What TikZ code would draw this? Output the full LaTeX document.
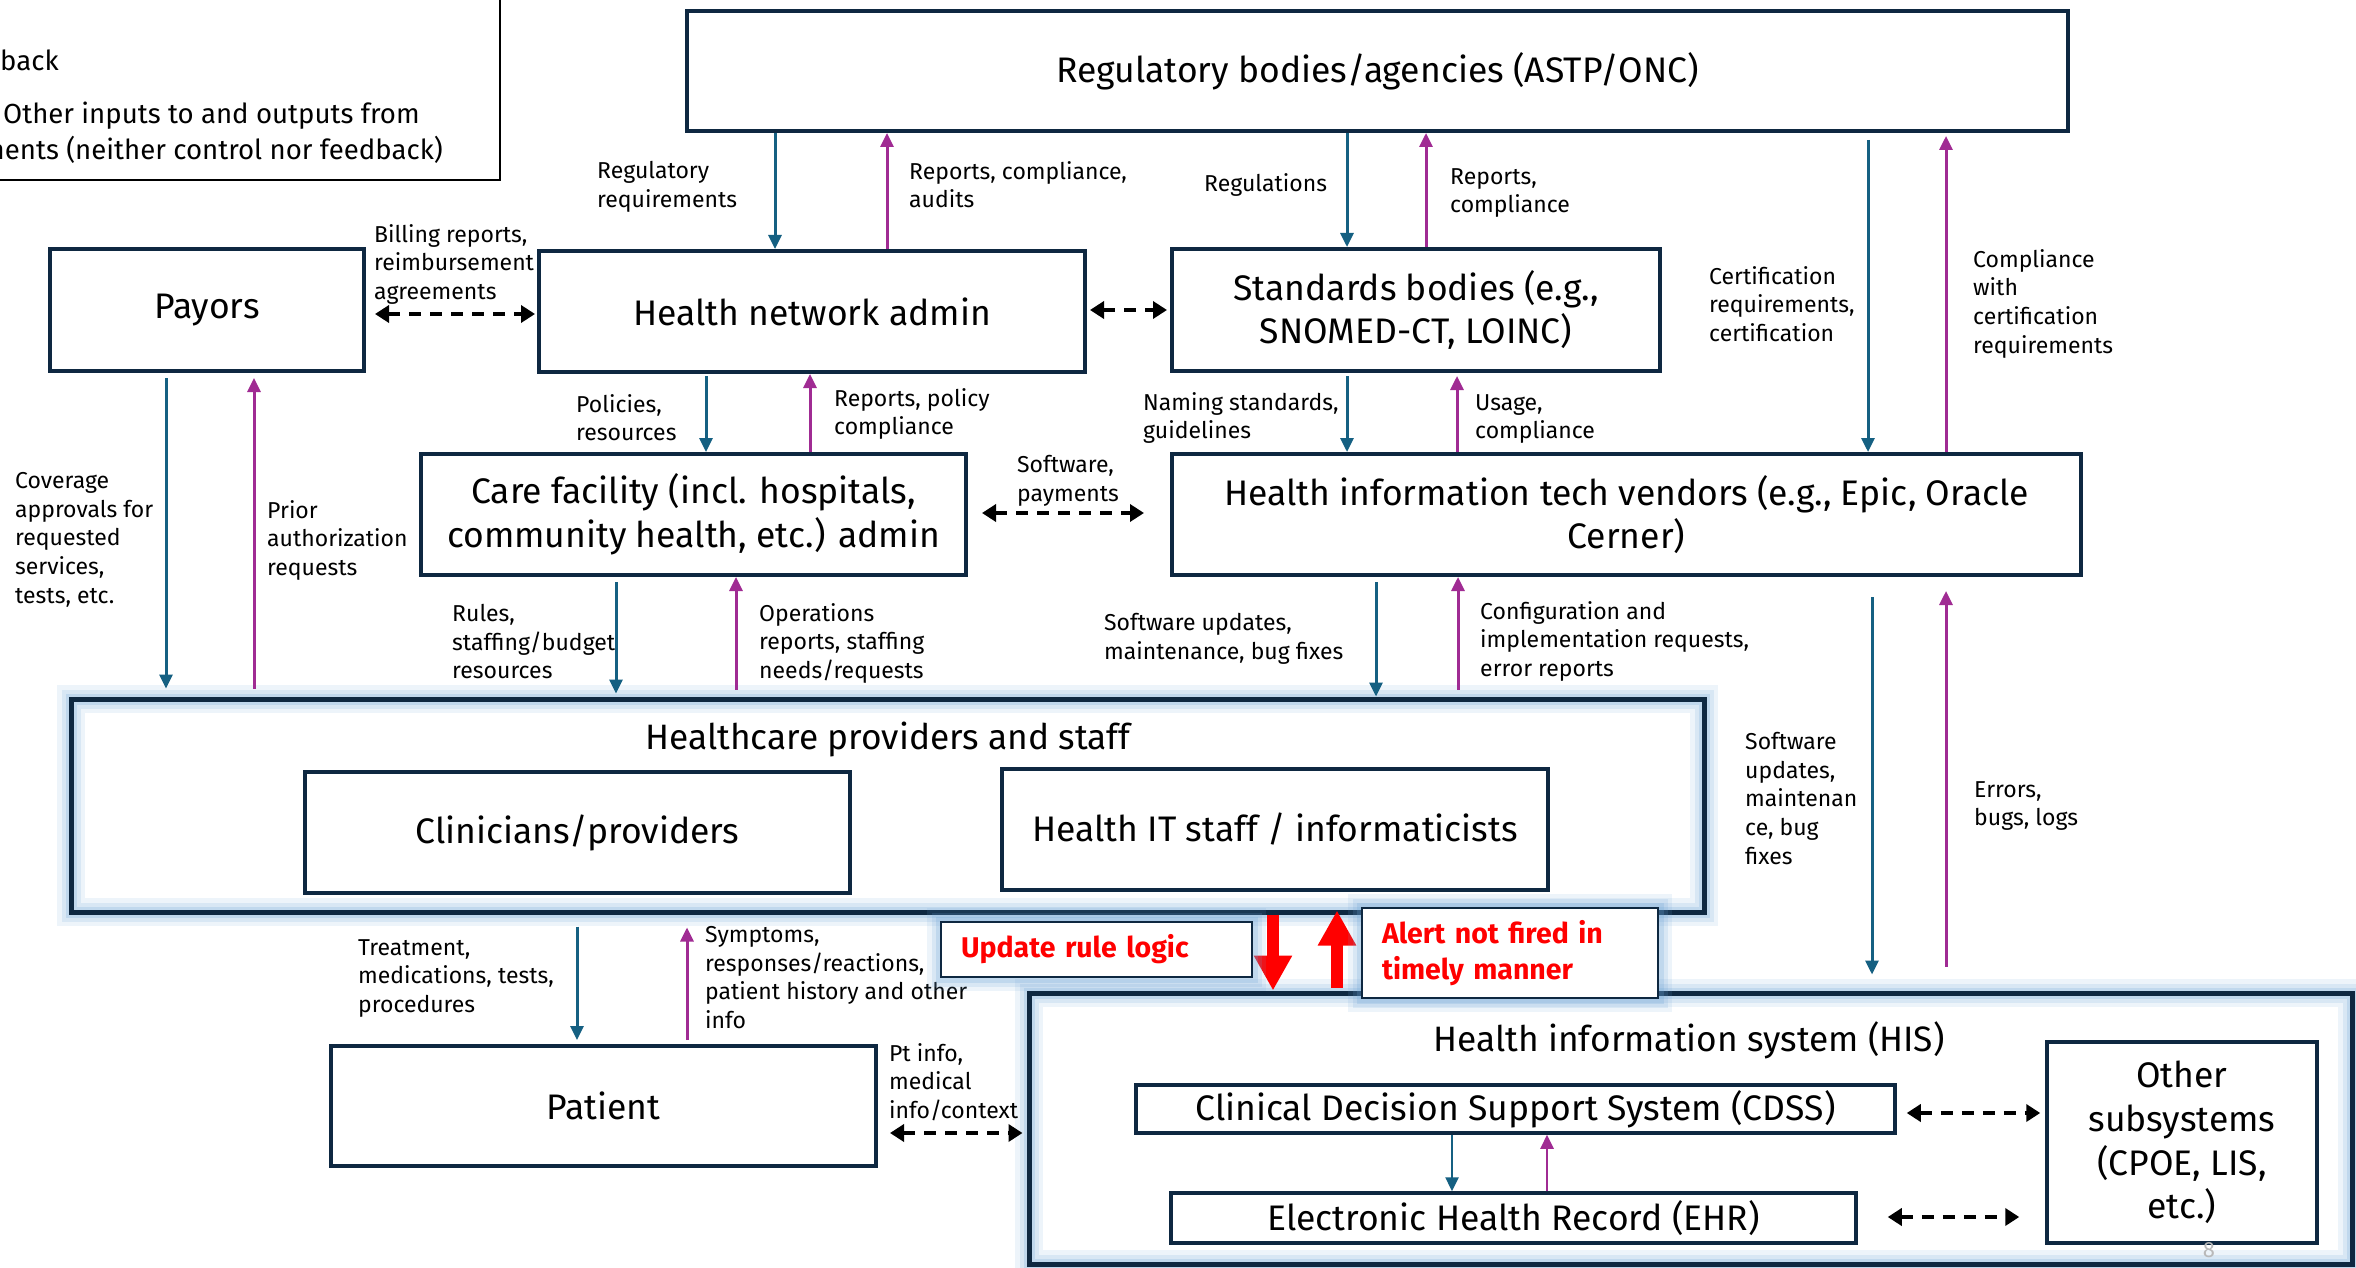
\documentclass[tikz,border=0pt]{standalone}
\usepackage{fontspec}
\setmainfont{Fira Sans}
\usetikzlibrary{arrows.meta}

\definecolor{edge}{RGB}{14,40,65}
\definecolor{ctlblue}{RGB}{21,96,130}
\definecolor{fbpurple}{RGB}{160,43,147}
\definecolor{glowblue}{RGB}{110,165,215}
\definecolor{alertred}{RGB}{255,0,0}

\tikzset{
  box/.style={draw=edge, line width=4pt, fill=white, inner sep=0pt, align=center,
    font=\fontsize{35.5}{43.6}\selectfont},
  glow/.style={
    preaction={draw=glowblue, line width=28pt, draw opacity=.12},
    preaction={draw=glowblue, line width=19pt, draw opacity=.16},
    preaction={draw=glowblue, line width=11pt, draw opacity=.22}},
  grp/.style={draw=edge, line width=5pt, glow, inner sep=0pt},
  grptitle/.style={inner sep=0pt, font=\fontsize{35.3}{40}\selectfont},
  lbl/.style={inner sep=0pt, anchor=north west, align=left,
    font=\fontsize{23}{28.7}\selectfont},
  legtext/.style={inner sep=0pt, font=\fontsize{27.6}{30}\selectfont},
  ctl/.style={draw=ctlblue, line width=3pt, -{Triangle[length=14pt,width=13pt]}},
  fb/.style={draw=fbpurple, line width=3pt, -{Triangle[length=14pt,width=13pt]}},
  peer/.style={draw=black, line width=4pt, dash pattern=on 12pt off 9pt,
    {Triangle[length=14pt,width=17pt]}-{Triangle[length=14pt,width=17pt]}},
  bigred/.style={draw=alertred, line width=12pt, -{Triangle[length=35pt,width=36pt]}},
  redlbl/.style={draw=edge, line width=2pt, fill=white, glow, inner xsep=20pt,
    inner ysep=0pt, align=left, text=alertred,
    font=\fontsize{28.5}{36}\selectfont\bfseries},
}

\begin{document}
\begin{tikzpicture}[x=1pt, y=-1pt]
\useasboundingbox (0,0) rectangle (2356,1268);
\clip (0,0) rectangle (2356,1268);
\fill[white] (0,0) rectangle (2356,1268);

% legend frame (partly outside the page)
\node[draw=black, line width=2pt, minimum width=540pt, minimum height=220pt,
      inner sep=0pt] (legend) at (230,70) {};
\node[legtext, anchor=west] (legfb) at (0,60) {back};
\node[legtext, anchor=west] (legio) at (3,116) {Other inputs to and outputs from};
\node[legtext, anchor=east] (legio2) at (443,150) {ments (neither control nor feedback)};

% grouping boxes
\node[grp, minimum width=1633pt, minimum height=213pt] (hcp) at (887.5,805.5) {};
\node[grptitle] (hcptitle) at (888,739) {Healthcare providers and staff};
\node[grp, minimum width=1323pt, minimum height=271pt] (his) at (1690.5,1128.5) {};
\node[grptitle] (histitle) at (1689,1040) {Health information system (HIS)};

% main boxes
\node[box, minimum width=1381pt, minimum height=120pt] (reg) at (1377.5,71)
  {Regulatory bodies/agencies (ASTP/ONC)};
\node[box, minimum width=314pt, minimum height=122pt] (payors) at (207,310) {Payors};
\node[box, minimum width=546pt, minimum height=121pt] (hna) at (812,311.5)
  {Health network admin};
\node[box, minimum width=488pt, minimum height=122pt] (std) at (1416,310)
  {Standards bodies (e.g.,\\SNOMED-CT, LOINC)};
\node[box, minimum width=545pt, minimum height=121pt] (care) at (693.5,514.5)
  {Care facility (incl. hospitals,\\community health, etc.) admin};
\node[box, minimum width=909pt, minimum height=121pt] (hit) at (1626.5,514.5)
  {Health information tech vendors (e.g., Epic, Oracle\\Cerner)};
\node[box, minimum width=545pt, minimum height=121pt] (clin) at (577.5,832.5)
  {Clinicians/providers};
\node[box, minimum width=546pt, minimum height=121pt] (itstaff) at (1275,829.5)
  {Health IT staff / informaticists};
\node[box, minimum width=545pt, minimum height=120pt] (patient) at (603.5,1106)
  {Patient};
\node[box, line width=3.5pt, minimum width=759pt, minimum height=48pt] (cdss) at (1515.5,1109)
  {Clinical Decision Support System (CDSS)};
\node[box, line width=3.5pt, minimum width=685pt, minimum height=50pt] (ehr) at (1513.5,1218)
  {Electronic Health Record (EHR)};
\node[box, line width=3.5pt, minimum width=270pt, minimum height=201pt] (other) at (2182,1142.5)
  {Other\\subsystems\\(CPOE, LIS,\\etc.)};

% control (blue) and feedback (purple) connectors
\draw[ctl] (reg.south -| 775,0) -- (hna.north -| 775,0);
\draw[fb] (hna.north -| 887,0) -- (reg.south -| 887,0);
\draw[ctl] (reg.south -| 1347,0) -- (std.north -| 1347,0);
\draw[fb] (std.north -| 1426,0) -- (reg.south -| 1426,0);
\draw[ctl, shorten <=7pt] (reg.south -| 1868,0) -- (hit.north -| 1868,0);
\draw[fb, shorten >=3pt] (hit.north -| 1946,0) -- (reg.south -| 1946,0);
\draw[ctl, shorten <=3pt] (std.south -| 1347,0) -- (hit.north -| 1347,0);
\draw[fb, shorten >=3pt] (hit.north -| 1457,0) -- (std.south -| 1457,0);
\draw[ctl, shorten <=5pt, shorten >=8pt] (payors.south -| 166,0) -- (hcp.north -| 166,0);
\draw[fb, shorten <=8pt, shorten >=5pt] (hcp.north -| 254,0) -- (payors.south -| 254,0);
\draw[ctl, shorten <=2pt] (hna.south -| 706,0) -- (care.north -| 706,0);
\draw[fb] (care.north -| 810,0) -- (hna.south -| 810,0);
\draw[ctl, shorten <=5pt, shorten >=3pt] (care.south -| 616,0) -- (hcp.north -| 616,0);
\draw[fb, shorten <=7pt] (hcp.north -| 736,0) -- (care.south -| 736,0);
\draw[ctl, shorten <=5pt] (hit.south -| 1376,0) -- (hcp.north -| 1376,0);
\draw[fb, shorten <=7pt] (hcp.north -| 1458,0) -- (hit.south -| 1458,0);
\draw[ctl, shorten <=20pt, shorten >=16pt] (hit.south -| 1872,0) -- (his.north -| 1872,0);
\draw[fb, shorten <=24pt, shorten >=14pt] (his.north -| 1946,0) -- (hit.south -| 1946,0);
\draw[ctl, shorten <=12pt, shorten >=4pt] (hcp.south -| 577,0) -- (patient.north -| 577,0);
\draw[fb, shorten <=4pt, shorten >=13pt] (patient.north -| 687,0) -- (hcp.south -| 687,0);
\draw[ctl, line width=2.5pt] (cdss.south -| 1452,0) -- (ehr.north -| 1452,0);
\draw[fb, line width=2.5pt] (ehr.north -| 1547,0) -- (cdss.south -| 1547,0);

% other exchanges (dashed, both ways)
\draw[peer, shorten <=9pt, shorten >=2pt] (payors.east |- 0,314) -- (hna.west |- 0,314);
\draw[peer, shorten <=3pt, shorten >=3pt] (hna.east |- 0,310) -- (std.west |- 0,310);
\draw[peer, shorten <=14pt, shorten >=26pt] (care.east |- 0,513) -- (hit.west |- 0,513);
\draw[peer, shorten <=12pt, shorten >=4pt] (patient.east |- 0,1133) -- (his.west |- 0,1133);
\draw[peer, shorten <=10pt, shorten >=5pt] (cdss.east |- 0,1113) -- (other.west |- 0,1113);
\draw[peer, shorten <=30pt, shorten >=26pt] (ehr.east |- 0,1217) -- (other.west |- 0,1217);

% connector labels
\node[lbl] (l1) at (597,161) {Regulatory\\requirements};
\node[lbl] (l2) at (909,161) {Reports, compliance,\\audits};
\node[lbl] (l3) at (1204,173) {Regulations};
\node[lbl] (l4) at (1450,168) {Reports,\\compliance};
\node[lbl] (l5) at (1709,266) {Certification\\requirements,\\certification};
\node[lbl] (l6) at (1973,249) {Compliance\\with\\certification\\requirements};
\node[lbl] (l7) at (374,224) {Billing reports,\\reimbursement\\agreements};
\node[lbl] (l8) at (15,472) {Coverage\\approvals for\\requested\\services,\\tests, etc.};
\node[lbl] (l9) at (267,500) {Prior\\authorization\\requests};
\node[lbl] (l10) at (576,394) {Policies,\\resources};
\node[lbl] (l11) at (834,388) {Reports, policy\\compliance};
\node[lbl] (l12) at (1143,392) {Naming standards,\\guidelines};
\node[lbl] (l13) at (1475,394) {Usage,\\compliance};
\node[lbl] (l14) at (1017,455) {Software,\\payments};
\node[lbl] (l15) at (452,604) {Rules,\\staffing/budget\\resources};
\node[lbl] (l16) at (759,603) {Operations\\reports, staffing\\needs/requests};
\node[lbl] (l17) at (1104,613) {Software updates,\\maintenance, bug fixes};
\node[lbl] (l18) at (1480,601) {Configuration and\\implementation requests,\\error reports};
\node[lbl] (l19) at (1745,732) {Software\\updates,\\maintenan\\ce, bug\\fixes};
\node[lbl] (l20) at (1974,781) {Errors,\\bugs, logs};
\node[lbl] (l21) at (358,939) {Treatment,\\medications, tests,\\procedures};
\node[lbl] (l22) at (705,926) {Symptoms,\\responses/reactions,\\patient history and other\\info};
\node[lbl] (l23) at (889,1043) {Pt info,\\medical\\info/context};

% failure annotations
\draw[bigred] (hcp.south -| 1273,0) -- (his.north -| 1273,0);
\draw[bigred, shorten <=3pt, shorten >=-4pt] (his.north -| 1337,0) -- (hcp.south -| 1337,0);
\node[redlbl, minimum width=311pt, minimum height=55pt, text width=271pt] (update)
  at (1096.5,949.5) {Update rule logic};
\node[redlbl, minimum width=296pt, minimum height=90pt, text width=256pt] (alert)
  at (1510,953) {Alert not fired in\\timely manner};

% page number
\node[text=gray!55, inner sep=0pt, font=\fontsize{22}{22}\selectfont] (pagenum) at (2209,1250) {8};
\end{tikzpicture}
\end{document}
